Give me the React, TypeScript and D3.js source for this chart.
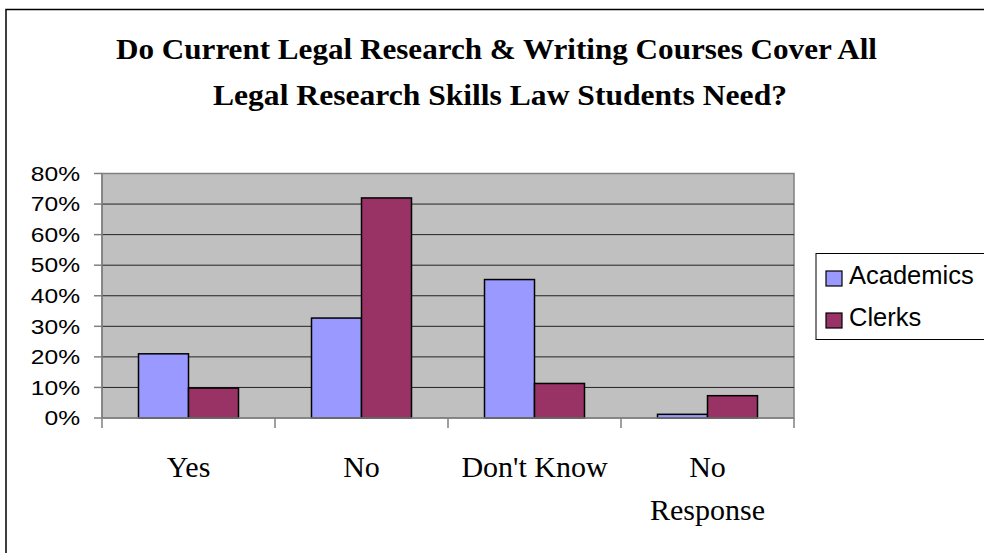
import React from "react";
import * as d3 from "d3";

const categories = ["Yes", "No", "Don't Know", "No Response"];
const categoryLines = [["Yes"], ["No"], ["Don't Know"], ["No", "Response"]];
const seriesNames = ["Academics", "Clerks"];
const academics = [0.21, 0.327, 0.453, 0.012];
const clerks = [0.098, 0.72, 0.113, 0.073];
const yTicks = [0, 0.1, 0.2, 0.3, 0.4, 0.5, 0.6, 0.7, 0.8];
const titleLines = [
  "Do Current Legal Research & Writing Courses Cover All",
  "Legal Research Skills Law Students Need?",
];
const colors = ["#9999FF", "#993366"];

export default function App() {
  const W = 984, H = 553;
  const left = 102, right = 794, top = 173.5, bottom = 418;
  const x0 = d3.scaleBand<string>().domain(categories).range([left, right]).paddingInner(0).paddingOuter(0);
  const x1 = d3.scaleBand<string>().domain(seriesNames).range([0, x0.bandwidth()]).paddingInner(0).paddingOuter(0.73);
  const y = d3.scaleLinear().domain([0, 0.8]).range([bottom, top]);
  const values = [academics, clerks];
  const fmt = d3.format(".0%");
  const boundaries = categories.map((c) => x0(c) as number).concat([right]);

  return (
    <svg width={W} height={H} style={{ position: "absolute", left: 0, top: 0, background: "#fff" }}>
      <rect x={6} y={9.5} width={1000} height={600} fill="#fff" stroke="#000" strokeWidth={1.5} />
      {/* title */}
      <text x={116} y={58.5} fontFamily="Liberation Serif, Times New Roman, serif" fontWeight="bold" fontSize={30}
        textLength={761} lengthAdjust="spacingAndGlyphs">{titleLines[0]}</text>
      <text x={213} y={105} fontFamily="Liberation Serif, Times New Roman, serif" fontWeight="bold" fontSize={30}
        textLength={574} lengthAdjust="spacingAndGlyphs">{titleLines[1]}</text>
      {/* plot area */}
      <rect x={left} y={top} width={right - left} height={bottom - top} fill="#C0C0C0" stroke="#808080" strokeWidth={1.5} />
      {yTicks.filter((t) => t > 0 && t < 0.8).map((t) => (
        <line key={t} x1={left} x2={right} y1={y(t)} y2={y(t)} stroke="#222" strokeWidth={1} />
      ))}
      {/* bars */}
      {categories.map((c, i) => (
        <g key={c}>
          {seriesNames.map((s, j) => (
            <rect key={s} x={(x0(c) as number) + (x1(s) as number)} y={y(values[j][i])}
              width={x1.bandwidth()} height={bottom - y(values[j][i])}
              fill={colors[j]} stroke="#000" strokeWidth={1.5} />
          ))}
        </g>
      ))}
      {/* axes */}
      <line x1={left} x2={left} y1={top} y2={bottom} stroke="#808080" strokeWidth={1.5} />
      <line x1={left} x2={right} y1={bottom} y2={bottom} stroke="#808080" strokeWidth={1.5} />
      {yTicks.map((t) => (
        <g key={t}>
          <line x1={left - 8} x2={left} y1={y(t)} y2={y(t)} stroke="#808080" strokeWidth={1.5} />
          <text transform={`translate(80,${y(t) + 7.3}) scale(1.2,1)`} textAnchor="end"
            fontFamily="Liberation Sans, Arial, sans-serif" fontSize={20.5} fill="#000">{fmt(t)}</text>
        </g>
      ))}
      {boundaries.map((b, i) => (
        <line key={i} x1={b} x2={b} y1={bottom} y2={bottom + 10} stroke="#808080" strokeWidth={1.5} />
      ))}
      {categories.map((c, i) => (
        <text key={c} textAnchor="middle" fontFamily="Liberation Serif, Times New Roman, serif" fontSize={30} fill="#000">
          {categoryLines[i].map((ln, k) => (
            <tspan key={k} x={(x0(c) as number) + x0.bandwidth() / 2} y={476.5 + k * 43}>{ln}</tspan>
          ))}
        </text>
      ))}
      {/* legend */}
      <rect x={816} y={253.5} width={200} height={86} fill="#fff" stroke="#000" strokeWidth={1} />
      {seriesNames.map((s, j) => (
        <g key={s}>
          <rect x={826} y={271 + j * 42} width={16} height={15} fill={colors[j]} stroke="#000" strokeWidth={1.2} />
          <text x={849} y={283.5 + j * 42} fontFamily="Liberation Sans, Arial, sans-serif" fontSize={25.5} fill="#000">{s}</text>
        </g>
      ))}
    </svg>
  );
}
